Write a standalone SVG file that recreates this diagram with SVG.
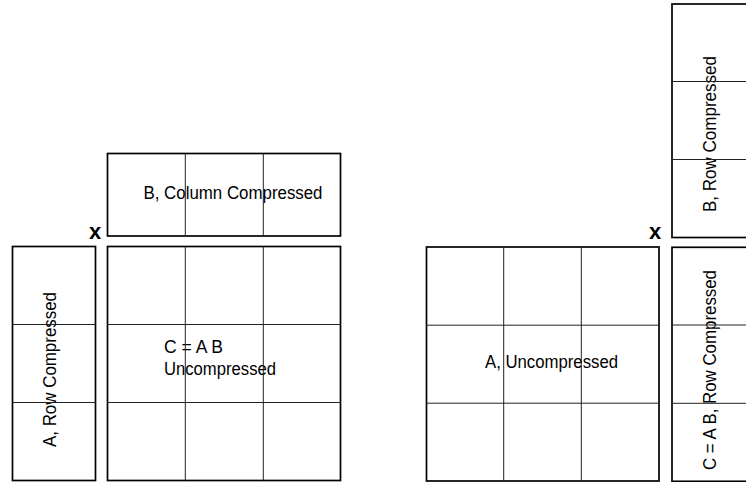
<svg xmlns="http://www.w3.org/2000/svg" width="746" height="482" viewBox="0 0 746 482">
  <style>
    .outer { fill: #ffffff; stroke: #000000; stroke-width: 1.7; }
    .inner { fill: none; stroke: #222222; stroke-width: 1; }
    .lbl { font-family: "Liberation Sans", Arial, sans-serif; font-size: 18px; fill: #000000; }
    .op { font-family: "Liberation Sans", Arial, sans-serif; font-size: 22px; font-weight: bold; fill: #000000; text-anchor: middle; }
  </style>
  <rect width="746" height="482" fill="#ffffff"/>

  <!-- Left side -->
  <g id="B-column-compressed">
    <rect class="outer" x="107.5" y="153.5" width="233" height="82.5"/>
    <text class="lbl" x="143.5" y="199.3" textLength="179" lengthAdjust="spacingAndGlyphs">B, Column Compressed</text>
    <line class="inner" x1="185.3" y1="153.5" x2="185.3" y2="236"/>
    <line class="inner" x1="263.3" y1="153.5" x2="263.3" y2="236"/>
  </g>

  <g id="op-x-left">
    <text class="op" x="95" y="238.5">x</text>
  </g>

  <g id="A-row-compressed">
    <rect class="outer" x="12.5" y="246.5" width="83" height="234"/>
    <text class="lbl" transform="translate(56,447) rotate(-90)" textLength="155" lengthAdjust="spacingAndGlyphs">A, Row Compressed</text>
    <line class="inner" x1="12.5" y1="324.5" x2="95.5" y2="324.5"/>
    <line class="inner" x1="12.5" y1="402.5" x2="95.5" y2="402.5"/>
  </g>

  <g id="C-uncompressed">
    <rect class="outer" x="107.5" y="246.5" width="233" height="234"/>
    <text class="lbl" x="164" y="353.3" textLength="59" lengthAdjust="spacingAndGlyphs">C = A B</text>
    <text class="lbl" x="164" y="375" textLength="112" lengthAdjust="spacingAndGlyphs">Uncompressed</text>
    <line class="inner" x1="185.3" y1="246.5" x2="185.3" y2="480.5"/>
    <line class="inner" x1="263.3" y1="246.5" x2="263.3" y2="480.5"/>
    <line class="inner" x1="107.5" y1="324.5" x2="340.5" y2="324.5"/>
    <line class="inner" x1="107.5" y1="402.5" x2="340.5" y2="402.5"/>
  </g>

  <!-- Right side -->
  <g id="A-uncompressed">
    <rect class="outer" x="426.5" y="247" width="232.5" height="234"/>
    <text class="lbl" x="485" y="367.7" textLength="133" lengthAdjust="spacingAndGlyphs">A, Uncompressed</text>
    <line class="inner" x1="503.7" y1="247" x2="503.7" y2="481"/>
    <line class="inner" x1="581.3" y1="247" x2="581.3" y2="481"/>
    <line class="inner" x1="426.5" y1="325.2" x2="659" y2="325.2"/>
    <line class="inner" x1="426.5" y1="403.2" x2="659" y2="403.2"/>
  </g>

  <g id="op-x-right">
    <text class="op" x="655" y="239">x</text>
  </g>

  <g id="B-row-compressed">
    <rect class="outer" x="672" y="4" width="84" height="233.5"/>
    <text class="lbl" transform="translate(716,212) rotate(-90)" textLength="156" lengthAdjust="spacingAndGlyphs">B, Row Compressed</text>
    <line class="inner" x1="672" y1="81.5" x2="756" y2="81.5"/>
    <line class="inner" x1="672" y1="159.5" x2="756" y2="159.5"/>
  </g>

  <g id="C-row-compressed">
    <rect class="outer" x="672" y="247.3" width="84" height="234"/>
    <text class="lbl" transform="translate(716,470) rotate(-90)" textLength="200" lengthAdjust="spacingAndGlyphs">C = A B, Row Compressed</text>
    <line class="inner" x1="672" y1="325" x2="756" y2="325"/>
    <line class="inner" x1="672" y1="403.3" x2="756" y2="403.3"/>
  </g>
</svg>
